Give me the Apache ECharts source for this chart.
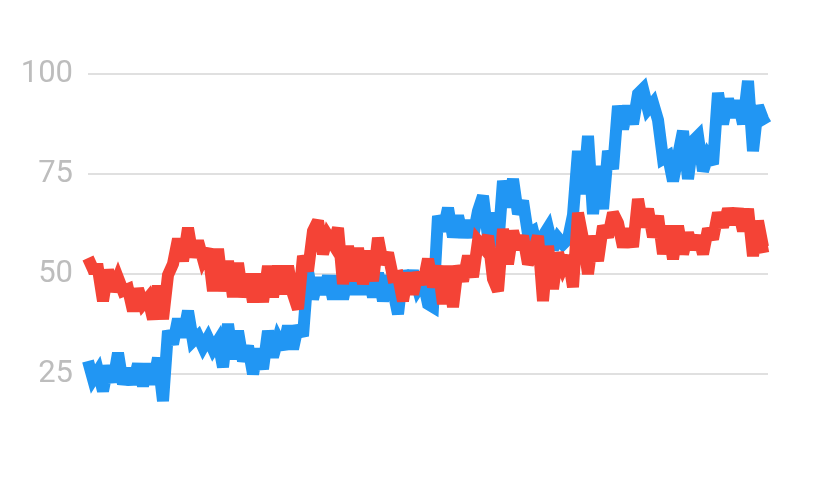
<!DOCTYPE html>
<html>
<head>
<meta charset="utf-8">
<script src="https://cdn.jsdelivr.net/npm/echarts@6/dist/echarts.min.js"></script>
<style>html,body{margin:0;padding:0;background:#fff}#c{width:830px;height:480px}</style>
</head>
<body>
<div id="c"></div>
<script>
const yTicks = [25, 50, 75, 100];
const blueValues = [
  28.25,23.75,25.75,20.75,27,23,30.25,22.5,26.25,22.5,27.5,22,27.5,22.5,29,18.25,35.75,32.5,38.75,34.25,
  40.75,33.25,34.5,31.75,34,31.25,33.25,26.75,37.5,28.75,35.75,28.25,32,25,31.25,26.25,35.75,29.25,33.75,31.25,
  37,31.25,37,34.5,50.75,43.75,49,45,49.5,43.75,49.5,43.75,49.5,45,50,45,50,44.25,50.25,43.25,
  49.5,46,40,50.75,46.75,50.75,46.25,48.25,42.5,41.75,64.5,60.75,66.5,59.25,64.5,59.25,63.25,59.25,65.75,69.5,
  59.25,65.25,56.75,73.25,66.75,73.75,65,68.25,60,60.75,55.75,59.5,61.5,56.25,59,57.5,58.75,64.75,80.75,70,
  84.5,65,77,66.25,80.75,76.25,92,86.25,92,87.5,95,96.25,91.25,92.75,88.5,78.75,79.5,73.25,79.5,85.75,
  73.75,83.25,84.5,75.75,79.5,77.5,95.25,87.5,93.75,89.25,93.25,87.5,98.25,80.75,92,88.75,89.5
];
const redValues = [
  54,51.25,51.25,43.25,51,45.75,49,45.75,46.25,40.75,46.25,42.5,44,38.75,47,38.75,49.75,52.5,58.75,53.25,
  61.5,54.25,58.25,53.75,56.25,45.75,56.25,45.75,53.25,44.25,52.75,44.25,50,43,50,43,52,44.25,52,45,
  52,45,41.25,54.5,50.75,60.75,63.25,55,59.5,57.5,61.5,47.5,57,48.25,56.5,47.5,55.75,48.25,59,52.5,
  55.25,49.25,49.5,43.25,50.25,45,50.25,47.5,53.75,46.75,52,42.5,52,41.75,52,48.25,54.5,49.25,58.25,56.75,
  59.5,48.75,45.75,61.25,52.5,60.75,56.25,59.5,52.5,55.25,59.5,43.25,57,46.25,55.25,51.75,54.5,46.75,65.25,58.75,
  50,59.5,53.25,62,59.25,65.25,62.75,56.75,61.25,56.75,68.75,61.75,66.25,59.25,64.5,55,62,53.75,62,55,
  60.25,56.25,59.5,55,61.25,58.75,65.25,61.75,66.25,62.5,66.25,60.75,66.25,54.5,63.25,56.75,57
];
const categories = blueValues.map((_, i) => String(i + 1));

const chart = echarts.init(document.getElementById('c'), null, {renderer: 'canvas'});
chart.setOption({
  animation: false,
  backgroundColor: '#ffffff',
  grid: {left: 88, right: 62, top: 74, bottom: 106, containLabel: false},
  xAxis: {
    type: 'category', data: categories, boundaryGap: false,
    show: false
  },
  yAxis: {
    type: 'value', min: yTicks[0], max: yTicks[yTicks.length - 1], interval: 25,
    axisLine: {show: false}, axisTick: {show: false},
    axisLabel: {color: '#bdbdbd', fontSize: 31, fontFamily: 'Roboto', margin: 15},
    splitLine: {lineStyle: {color: '#e0e0e0', width: 2}}
  },
  series: [
    {type: 'line', data: blueValues, showSymbol: false, clip: false, sampling: null,
     lineStyle: {color: '#2196F3', width: 12, join: 'miter', miterLimit: 3, cap: 'butt'}},
    {type: 'line', data: redValues, showSymbol: false, clip: false, sampling: null,
     lineStyle: {color: '#F44336', width: 12, join: 'miter', miterLimit: 3, cap: 'butt'}}
  ]
});
</script>
</body>
</html>
